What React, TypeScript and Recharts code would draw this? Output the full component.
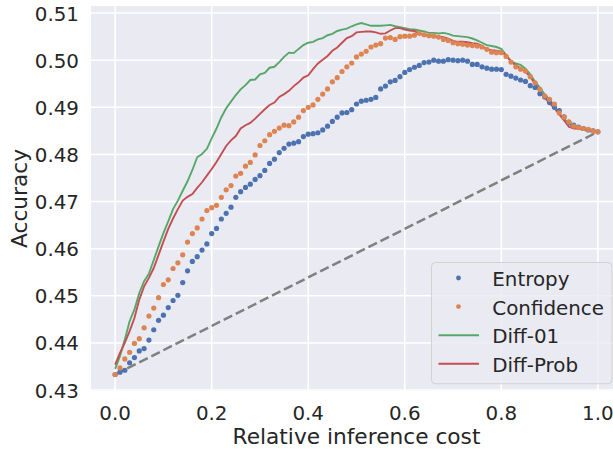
import { CartesianGrid, Legend, Line, LineChart, XAxis, YAxis } from 'recharts';

// accuracy vs relative inference cost, sampled every 0.01
const entropy = [
  0.4333, 0.4338, 0.4342, 0.4358, 0.4369, 0.4383, 0.4388, 0.4406, 0.4428, 0.4448,
  0.4459, 0.4475, 0.449, 0.4501, 0.4528, 0.4553, 0.4573, 0.4583, 0.4597, 0.461,
  0.4632, 0.4643, 0.4663, 0.4675, 0.4688, 0.4709, 0.4721, 0.473, 0.4737, 0.4747,
  0.4755, 0.4766, 0.4781, 0.479, 0.4804, 0.4813, 0.4822, 0.4824, 0.4827, 0.4838,
  0.4843, 0.4844, 0.4846, 0.4852, 0.486, 0.487, 0.4879, 0.4888, 0.4889, 0.4895,
  0.4907, 0.4913, 0.4915, 0.4917, 0.4921, 0.4939, 0.4945, 0.4954, 0.4957, 0.4965,
  0.4974, 0.498, 0.4985, 0.4989, 0.4995, 0.4996, 0.5, 0.4998, 0.4998, 0.5001,
  0.5, 0.4999, 0.5, 0.4998, 0.4991, 0.4991, 0.4986, 0.4983, 0.4981, 0.4981,
  0.498, 0.497, 0.4966, 0.4962, 0.4958, 0.4955, 0.4946, 0.4942, 0.4929, 0.4922,
  0.491, 0.49, 0.4893, 0.488, 0.4868, 0.4862, 0.4858, 0.4855, 0.4852, 0.485,
  0.4848,
];

const confidence = [
  0.4333, 0.4347, 0.4366, 0.438, 0.4399, 0.4409, 0.4432, 0.4457, 0.4474, 0.4496,
  0.4524, 0.4534, 0.4558, 0.457, 0.4587, 0.4614, 0.4632, 0.4644, 0.4663, 0.4681,
  0.4687, 0.4692, 0.4709, 0.4725, 0.4734, 0.4754, 0.476, 0.4775, 0.4783, 0.4799,
  0.4819, 0.4829, 0.4842, 0.4849, 0.4856, 0.4862, 0.4861, 0.4869, 0.4879, 0.4893,
  0.49, 0.4905, 0.4917, 0.4928, 0.4939, 0.4954, 0.4963, 0.4976, 0.4986, 0.4994,
  0.5007, 0.5013, 0.5019, 0.5028, 0.5032, 0.5035, 0.5047, 0.5048, 0.5044, 0.505,
  0.5051, 0.5051, 0.5053, 0.5057, 0.5054, 0.5052, 0.5051, 0.5049, 0.5044, 0.5042,
  0.5037, 0.5035, 0.5034, 0.5032, 0.5031, 0.503, 0.5028, 0.5023, 0.5017, 0.5016,
  0.5016, 0.5008, 0.4996, 0.4986, 0.4981, 0.4977, 0.4965, 0.4952, 0.4938, 0.4924,
  0.4917, 0.4907, 0.4888, 0.4879, 0.4869, 0.486, 0.4857, 0.4855, 0.4853, 0.485,
  0.4848,
];

const diff01 = [
  0.4345, 0.4372, 0.4407, 0.4446, 0.4471, 0.4506, 0.4531, 0.4547, 0.4576, 0.4605,
  0.4633, 0.4658, 0.4684, 0.4702, 0.4723, 0.4743, 0.4767, 0.4794, 0.4801, 0.4812,
  0.4834, 0.4855, 0.4879, 0.4898, 0.4912, 0.4926, 0.4938, 0.4947, 0.4958, 0.4959,
  0.497, 0.4973, 0.4984, 0.4986, 0.4996, 0.5007, 0.5016, 0.5015, 0.5024, 0.5032,
  0.5037, 0.5039, 0.5044, 0.5047, 0.5053, 0.5056, 0.5062, 0.5065, 0.5067, 0.5072,
  0.5076, 0.5079, 0.5076, 0.5073, 0.5073, 0.5073, 0.5074, 0.5075, 0.5072, 0.507,
  0.5068, 0.5066, 0.5065, 0.5063, 0.5061, 0.5058, 0.5058, 0.5057, 0.5058, 0.5056,
  0.5052, 0.5051, 0.505, 0.5049, 0.5046, 0.5042, 0.5037, 0.5032, 0.503, 0.5028,
  0.5024, 0.5011, 0.4998, 0.4993, 0.499, 0.4982, 0.497, 0.4954, 0.4942, 0.4927,
  0.4917, 0.4903, 0.4886, 0.4876, 0.4866, 0.4857, 0.4855, 0.4854, 0.4852, 0.485,
  0.4848,
];

const diffProb = [
  0.4354, 0.4379, 0.44, 0.4425, 0.4453, 0.4492, 0.452, 0.4538, 0.4559, 0.4587,
  0.4615, 0.4642, 0.4664, 0.4684, 0.4702, 0.471, 0.4716, 0.4729, 0.4741, 0.4755,
  0.4769, 0.4784, 0.4801, 0.4818, 0.483, 0.4839, 0.4855, 0.4862, 0.4867, 0.4876,
  0.4886, 0.4896, 0.4905, 0.491, 0.4922, 0.4928, 0.4935, 0.4945, 0.4953, 0.4963,
  0.4968, 0.4981, 0.4993, 0.5001, 0.5009, 0.502, 0.5027, 0.5037, 0.5047, 0.5051,
  0.5059, 0.506, 0.5061, 0.5061, 0.5059, 0.5056, 0.5057, 0.5063, 0.5068, 0.5068,
  0.5065, 0.5063, 0.5062, 0.5056, 0.5054, 0.5053, 0.5052, 0.505, 0.5049, 0.5046,
  0.5041, 0.5039, 0.5039, 0.5038, 0.5036, 0.5035, 0.503, 0.5023, 0.5021, 0.502,
  0.5018, 0.501, 0.4997, 0.4989, 0.4983, 0.4976, 0.4964, 0.495, 0.4933, 0.492,
  0.4909, 0.4898, 0.4885, 0.4872, 0.4859, 0.4855, 0.4855, 0.4852, 0.485, 0.4849,
  0.4848,
];

// dashed reference from the cheapest to the most expensive model
const chance = [0.4333, 0.4848];

const xTicks = [0, 0.2, 0.4, 0.6, 0.8, 1.0];
const yTicks = [0.43, 0.44, 0.45, 0.46, 0.47, 0.48, 0.49, 0.5, 0.51];

const FONT = '"DejaVu Sans", sans-serif';
const INK = '#262626';
const BG = '#EAEAF2';
const TICK_SIZE = 19.86;
const LABEL_SIZE = 21.7;

const legendItems = [
  { name: 'Entropy', color: '#4C72B0', kind: 'dot' },
  { name: 'Confidence', color: '#DD8452', kind: 'dot' },
  { name: 'Diff-01', color: '#55A868', kind: 'line' },
  { name: 'Diff-Prob', color: '#C44E52', kind: 'line' },
];

const last = entropy.length - 1;
const data = entropy.map((e, i) => ({
  cost: i / last,
  entropy: e,
  confidence: confidence[i],
  diff01: diff01[i],
  diffProb: diffProb[i],
  chance: i === 0 ? chance[0] : i === last ? chance[1] : null,
}));

function XTick({ x, y, payload }: any) {
  return (
    <text x={x} y={y + 29} textAnchor="middle" fill={INK} fontSize={TICK_SIZE} fontFamily={FONT}>
      {Number(payload.value).toFixed(1)}
    </text>
  );
}

function YTick({ x, y, payload }: any) {
  return (
    <text x={x - 12} y={y + 7.5} textAnchor="end" fill={INK} fontSize={TICK_SIZE} fontFamily={FONT}>
      {Number(payload.value).toFixed(2)}
    </text>
  );
}

function XLabel({ viewBox }: any) {
  const vb = viewBox ?? { x: 91, y: 391, width: 531 };
  return (
    <text x={vb.x + vb.width / 2} y={vb.y + 53.3} textAnchor="middle" fill={INK} fontSize={LABEL_SIZE} fontFamily={FONT}>
      Relative inference cost
    </text>
  );
}

function YLabel({ viewBox }: any) {
  const vb = viewBox ?? { x: 0, y: 6, height: 385 };
  const cx = vb.x + 27;
  const cy = vb.y + vb.height / 2;
  return (
    <text x={cx} y={cy} transform={`rotate(-90, ${cx}, ${cy})`} textAnchor="middle" fill={INK} fontSize={LABEL_SIZE} fontFamily={FONT}>
      Accuracy
    </text>
  );
}

function LegendBox() {
  return (
    <svg width={182} height={123} style={{ display: 'block' }}>
      <rect x={0.5} y={0.5} width={180.5} height={121.3} rx={4} fill={BG} fillOpacity={0.8} stroke="#CCCCCC" strokeOpacity={0.8} />
      {legendItems.map((it, k) => {
        const cy = 16 + k * 28.6;
        return (
          <g key={it.name}>
            {it.kind === 'dot' ? (
              <circle cx={27.5} cy={cy} r={2.4} fill={it.color} />
            ) : (
              <line x1={7.5} x2={48} y1={cy} y2={cy} stroke={it.color} strokeWidth={1.9} />
            )}
            <text x={61.3} y={cy + 8} fill={INK} fontSize={TICK_SIZE} fontFamily={FONT}>
              {it.name}
            </text>
          </g>
        );
      })}
    </svg>
  );
}

export default function App() {
  return (
    <div style={{ position: 'absolute', left: 0, top: 0, width: 613, height: 452, overflow: 'hidden', background: '#fff' }}>
      <LineChart width={623} height={452} data={data} margin={{ top: 6, right: 1, bottom: 0, left: 0 }}>
        <CartesianGrid fill={BG} stroke="#FFFFFF" strokeWidth={1.6} horizontalValues={yTicks} verticalValues={xTicks} />
        <XAxis
          dataKey="cost"
          type="number"
          domain={[-0.05, 1.05]}
          ticks={xTicks}
          allowDataOverflow
          axisLine={false}
          tickLine={false}
          tickSize={0}
          tickMargin={0}
          height={61}
          tick={<XTick />}
          label={<XLabel />}
        />
        <YAxis
          type="number"
          domain={[0.4298, 0.5115]}
          ticks={yTicks}
          allowDataOverflow
          axisLine={false}
          tickLine={false}
          tickSize={0}
          tickMargin={0}
          width={91}
          tick={<YTick />}
          label={<YLabel />}
        />
        <Line dataKey="chance" connectNulls stroke="#808080" strokeWidth={2.5} strokeDasharray="9.5 4" dot={false} activeDot={false} isAnimationActive={false} legendType="none" />
        <Line dataKey="entropy" name="Entropy" stroke="none" strokeWidth={0} dot={{ r: 2.6, fill: '#4C72B0', stroke: 'none' }} activeDot={false} isAnimationActive={false} />
        <Line dataKey="confidence" name="Confidence" stroke="none" strokeWidth={0} dot={{ r: 2.6, fill: '#DD8452', stroke: 'none' }} activeDot={false} isAnimationActive={false} />
        <Line dataKey="diff01" name="Diff-01" stroke="#55A868" strokeWidth={1.9} dot={false} activeDot={false} isAnimationActive={false} />
        <Line dataKey="diffProb" name="Diff-Prob" stroke="#C44E52" strokeWidth={1.9} dot={false} activeDot={false} isAnimationActive={false} />
        <Legend
          layout="horizontal"
          verticalAlign="middle"
          align="center"
          content={() => <LegendBox />}
          wrapperStyle={{ position: 'absolute', left: 431, top: 261.5, width: 182, height: 123 }}
        />
      </LineChart>
    </div>
  );
}
